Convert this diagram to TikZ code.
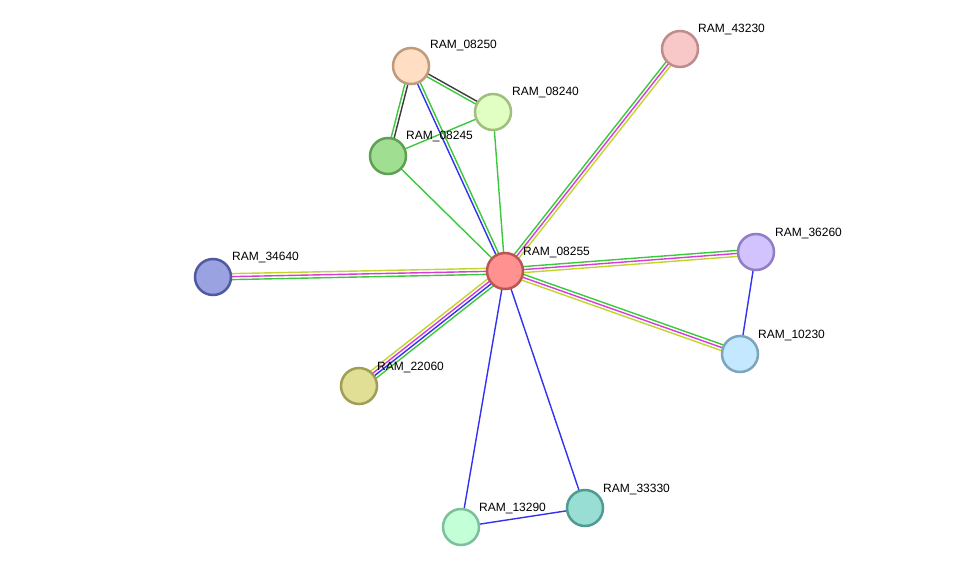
\documentclass[tikz,border=0pt]{standalone}
\usepackage{fontspec}
\setmainfont{Liberation Sans}
\usetikzlibrary{calc,backgrounds}
\definecolor{eGreen}{RGB}{60,200,60}
\definecolor{eMag}{RGB}{215,60,215}
\definecolor{eYel}{RGB}{195,212,45}
\definecolor{eBlue}{RGB}{50,50,240}
\definecolor{eBlack}{RGB}{60,60,60}
\tikzset{
  prot/.style={circle, minimum size=36pt, inner sep=0pt, line width=2.5pt},
  lbl/.style={anchor=west, font=\fontsize{12}{12}\selectfont, inner sep=0pt, text=black},
  link/.style={line width=1.4pt},
}
\newcommand{\lnk}[4]{\draw[link,#4] ($(#1)!#3pt!90:(#2)$) -- ($(#2)!#3pt!-90:(#1)$);}
\begin{document}
\begin{tikzpicture}[x=1pt,y=-1pt]
\useasboundingbox (0,0) rectangle (975,573);
% nodes
\node[prot, draw={rgb,255:red,190;green,85;blue,85}, fill={rgb,255:red,255;green,145;blue,145}] (n08255) at (505,271) {};
\node[prot, draw={rgb,255:red,190;green,155;blue,125}, fill={rgb,255:red,255;green,222;blue,195}] (n08250) at (411,66) {};
\node[prot, draw={rgb,255:red,160;green,190;blue,125}, fill={rgb,255:red,225;green,255;blue,195}] (n08240) at (493,112) {};
\node[prot, draw={rgb,255:red,95;green,160;blue,85}, fill={rgb,255:red,160;green,223;blue,145}] (n08245) at (388,156) {};
\node[prot, draw={rgb,255:red,190;green,140;blue,140}, fill={rgb,255:red,248;green,200;blue,200}] (n43230) at (680,49) {};
\node[prot, draw={rgb,255:red,80;green,90;blue,160}, fill={rgb,255:red,155;green,162;blue,225}] (n34640) at (213,277) {};
\node[prot, draw={rgb,255:red,145;green,125;blue,195}, fill={rgb,255:red,210;green,195;blue,255}] (n36260) at (756,252) {};
\node[prot, draw={rgb,255:red,125;green,165;blue,190}, fill={rgb,255:red,195;green,232;blue,255}] (n10230) at (740,354) {};
\node[prot, draw={rgb,255:red,160;green,158;blue,85}, fill={rgb,255:red,225;green,222;blue,150}] (n22060) at (359,386) {};
\node[prot, draw={rgb,255:red,125;green,190;blue,155}, fill={rgb,255:red,195;green,255;blue,215}] (n13290) at (461,527) {};
\node[prot, draw={rgb,255:red,80;green,155;blue,145}, fill={rgb,255:red,152;green,222;blue,212}] (n33330) at (585,508) {};
% labels
\node[lbl] (l08255) at (523,252) {RAM\_08255};
\node[lbl] (l08250) at (430,46) {RAM\_08250};
\node[lbl] (l08240) at (512,93) {RAM\_08240};
\node[lbl] (l08245) at (406,137) {RAM\_08245};
\node[lbl] (l43230) at (698,30) {RAM\_43230};
\node[lbl] (l34640) at (232,257) {RAM\_34640};
\node[lbl] (l36260) at (775,233) {RAM\_36260};
\node[lbl] (l10230) at (758,335) {RAM\_10230};
\node[lbl] (l22060) at (377,367) {RAM\_22060};
\node[lbl] (l13290) at (479,508) {RAM\_13290};
\node[lbl] (l33330) at (603,489) {RAM\_33330};
% edges
\begin{scope}[on background layer]
\fill[white] (0,0) rectangle (975,573);
\lnk{n08250}{n08245}{1.5}{eBlack}
\lnk{n08250}{n08245}{-1.5}{eGreen}
\lnk{n08250}{n08240}{1.5}{eBlack}
\lnk{n08250}{n08240}{-1.5}{eGreen}
\lnk{n08250}{n08255}{1.5}{eGreen}
\lnk{n08250}{n08255}{-1.5}{eBlue}
\lnk{n08245}{n08240}{0}{eGreen}
\lnk{n08245}{n08255}{0}{eGreen}
\lnk{n08240}{n08255}{0}{eGreen}
\lnk{n08255}{n43230}{3}{eGreen}
\lnk{n08255}{n43230}{0}{eMag}
\lnk{n08255}{n43230}{-3}{eYel}
\lnk{n08255}{n34640}{-3}{eYel}
\lnk{n08255}{n34640}{0}{eMag}
\lnk{n08255}{n34640}{3}{eGreen}
\lnk{n08255}{n36260}{3}{eGreen}
\lnk{n08255}{n36260}{0}{eMag}
\lnk{n08255}{n36260}{-3}{eYel}
\lnk{n08255}{n10230}{3}{eGreen}
\lnk{n08255}{n10230}{0}{eMag}
\lnk{n08255}{n10230}{-3}{eYel}
\lnk{n08255}{n22060}{4.5}{eGreen}
\lnk{n08255}{n22060}{1.5}{eBlue}
\lnk{n08255}{n22060}{-1.5}{eMag}
\lnk{n08255}{n22060}{-4.5}{eYel}
\lnk{n08255}{n13290}{0}{eBlue}
\lnk{n08255}{n33330}{0}{eBlue}
\lnk{n36260}{n10230}{0}{eBlue}
\lnk{n13290}{n33330}{0}{eBlue}
\end{scope}
\end{tikzpicture}
\end{document}
